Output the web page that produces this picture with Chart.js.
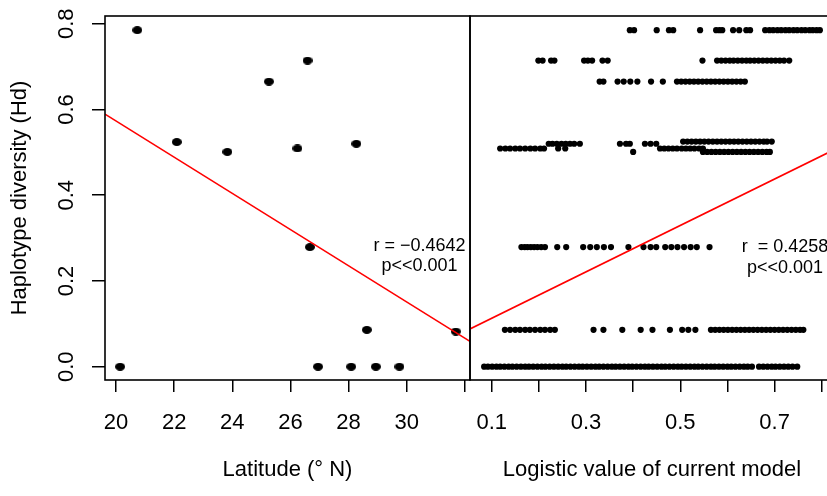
<!DOCTYPE html>
<html>
<head>
<meta charset="utf-8">
<title>Haplotype diversity</title>
<script src="https://cdn.jsdelivr.net/npm/chart.js@4.4.0/dist/chart.umd.min.js"></script>
<style>
    html, body { margin: 0; padding: 0; background: #fff; overflow: hidden; }
    #wrap { position: relative; width: 827px; height: 496px; overflow: hidden; }
    #latChart { position: absolute; left: 0; top: 0; }
    #modelChart { position: absolute; left: 461px; top: 0; }
</style>
</head>
<body>
<div id="wrap">
    <canvas id="latChart" width="471" height="496"></canvas>
    <canvas id="modelChart" width="380" height="496"></canvas>
</div>
<script>
const FONT = '"Liberation Sans", Arial, Helvetica, sans-serif';

// sampling sites: latitude vs Hd
const siteLat = [20.14, 20.73, 22.09, 23.83, 25.26, 26.24, 26.59, 26.67, 26.95, 28.09, 28.27, 28.63, 28.94, 29.75, 31.69];
const siteHd = [0, 0.785, 0.524, 0.501, 0.665, 0.509, 0.714, 0.279, 0, 0, 0.520, 0.086, 0, 0, 0.082];

// regression lines, end points at the axis limits
const latFitX = [19.62, 32.18];
const latFitY = [0.589, 0.059];
const modelFitX = [0.054, 0.826];
const modelFitY = [0.088, 0.506];

// axis limits and ticks
const hdRange = [-0.031, 0.818];
const latRange = [19.62, 32.18];
const modelRange = [0.054, 0.826];
const hdTicks = [0, 0.2, 0.4, 0.6, 0.8];
const latTicks = [20, 22, 24, 26, 28, 30, 32];
const latLabels = ['20', '22', '24', '26', '28', '30'];
const modelTicks = [0.1, 0.2, 0.3, 0.4, 0.5, 0.6, 0.7, 0.8];
const modelLabels = ['0.1', '0.3', '0.5', '0.7'];

// individuals: Hd level of their site and logistic value of the model
const bandHd = [0.785, 0.714, 0.665, 0.525, 0.520, 0.509, 0.501, 0.279, 0.086, 0];
const bandLogit = [
    [0.393, 0.402, 0.450, 0.476, 0.485, 0.542, 0.576, 0.583, 0.589, 0.612, 0.625, 0.640, 0.648,
     0.680, 0.689, 0.697, 0.706, 0.714, 0.723, 0.731, 0.740, 0.748, 0.757, 0.765, 0.774, 0.781, 0.789, 0.796],
    [0.199, 0.208, 0.226, 0.233, 0.296, 0.304, 0.313, 0.335, 0.346, 0.547,
     0.578, 0.587, 0.596, 0.605, 0.613, 0.622, 0.631, 0.640, 0.648, 0.657, 0.666, 0.675, 0.684, 0.693,
     0.702, 0.711, 0.720, 0.731],
    [0.329, 0.337, 0.367, 0.380, 0.394, 0.409, 0.438, 0.463,
     0.493, 0.502, 0.511, 0.520, 0.529, 0.538, 0.547, 0.556, 0.565, 0.574, 0.583, 0.592, 0.601, 0.610,
     0.619, 0.628, 0.637],
    [0.506, 0.515, 0.524, 0.533, 0.542, 0.551, 0.560, 0.569, 0.578, 0.587, 0.596, 0.605, 0.614, 0.623,
     0.632, 0.641, 0.650, 0.659, 0.668, 0.677, 0.684, 0.694],
    [0.221, 0.229, 0.238, 0.248, 0.257, 0.266, 0.275, 0.287, 0.372, 0.385, 0.393, 0.425, 0.437, 0.449],
    [0.118, 0.129, 0.139, 0.150, 0.160, 0.171, 0.182, 0.192, 0.203, 0.211, 0.241, 0.256,
     0.457, 0.466, 0.475, 0.484, 0.493, 0.503, 0.512, 0.521, 0.530, 0.540, 0.548],
    [0.400, 0.548, 0.557, 0.566, 0.575, 0.584, 0.593, 0.602, 0.611, 0.620, 0.629, 0.638, 0.647, 0.656,
     0.665, 0.674, 0.683, 0.690],
    [0.163, 0.170, 0.176, 0.183, 0.190, 0.197, 0.205, 0.213, 0.239, 0.258, 0.294, 0.309, 0.323, 0.338,
     0.353, 0.390, 0.422, 0.437, 0.449, 0.468, 0.481, 0.494, 0.508, 0.522, 0.535, 0.562],
    [0.128, 0.139, 0.150, 0.160, 0.171, 0.181, 0.192, 0.203, 0.213, 0.224, 0.234,
     0.316, 0.337, 0.377, 0.416, 0.441, 0.478, 0.504, 0.517, 0.532,
     0.565, 0.574, 0.583, 0.592, 0.601, 0.610, 0.619, 0.628, 0.637, 0.646, 0.655, 0.664, 0.673, 0.682,
     0.691, 0.700, 0.709, 0.718, 0.727, 0.736, 0.745, 0.754, 0.761],
    [0.084, 0.092, 0.101, 0.110, 0.118, 0.127, 0.136, 0.144, 0.153, 0.162, 0.171, 0.179, 0.188, 0.197,
     0.206, 0.214, 0.223, 0.232, 0.241, 0.250, 0.258, 0.267, 0.276, 0.285, 0.293, 0.302, 0.311, 0.320,
     0.328, 0.337, 0.346, 0.355, 0.363, 0.372, 0.381, 0.390, 0.398, 0.407, 0.416, 0.425, 0.433, 0.442,
     0.451, 0.460, 0.468, 0.477, 0.486, 0.495, 0.503, 0.512, 0.521, 0.530, 0.538, 0.547, 0.556, 0.565,
     0.573, 0.582, 0.591, 0.600, 0.608, 0.617, 0.626, 0.635, 0.643, 0.652, 0.667, 0.676, 0.685, 0.694,
     0.702, 0.711, 0.720, 0.729, 0.738, 0.748]
];

function zip(xs, ys) {
    return xs.map((x, i) => ({ x: x, y: ys[i] }));
}

// site dots are a little wider than tall
function makeDot(w, h) {
    const c = document.createElement('canvas');
    c.width = w;
    c.height = h;
    const g = c.getContext('2d');
    g.fillStyle = '#000';
    g.beginPath();
    g.ellipse(w / 2, h / 2, w / 2, h / 2, 0, 0, Math.PI * 2);
    g.fill();
    return c;
}

// box around the plot area plus the r / p notes
function framePlugin(notes) {
    return {
        id: 'frame',
        afterDatasetsDraw(chart) {
            const { ctx, chartArea: a, scales } = chart;
            ctx.save();
            ctx.strokeStyle = '#000';
            ctx.lineWidth = 1.6;
            ctx.strokeRect(a.left, a.top, a.right - a.left, a.bottom - a.top);
            ctx.font = '18px ' + FONT;
            ctx.fillStyle = '#000';
            ctx.textAlign = 'center';
            ctx.textBaseline = 'middle';
            notes.forEach(n => {
                ctx.fillText(n.text, scales.x.getPixelForValue(n.x), scales.y.getPixelForValue(n.y));
            });
            ctx.restore();
        }
    };
}

// y tick labels are drawn upright along the axis
const hdLabelPlugin = {
    id: 'hdLabels',
    afterDraw(chart) {
        const { ctx } = chart;
        const y = chart.scales.y;
        ctx.save();
        ctx.font = '22px ' + FONT;
        ctx.fillStyle = '#000';
        ctx.textAlign = 'center';
        ctx.textBaseline = 'alphabetic';
        hdTicks.forEach(v => {
            ctx.save();
            ctx.translate(y.right - 31.7, y.getPixelForValue(v));
            ctx.rotate(-Math.PI / 2);
            ctx.fillText(v.toFixed(1), 0, 0);
            ctx.restore();
        });
        ctx.restore();
    }
};

function xAxis(range, ticks, labels, digits, title) {
    return {
        type: 'linear',
        min: range[0],
        max: range[1],
        afterBuildTicks: s => { s.ticks = ticks.map(v => ({ value: v })); },
        afterFit: s => {
            // keep the plot box where it is, labels may hang over the edges
            s.height = 116;
            s.paddingLeft = 0;
            s.paddingRight = 0;
        },
        border: { display: false },
        grid: { drawOnChartArea: false, tickLength: 12, color: '#000', lineWidth: 1.5 },
        ticks: {
            autoSkip: false,
            maxRotation: 0,
            minRotation: 0,
            padding: 18,
            color: '#000',
            font: { family: FONT, size: 22 },
            callback: v => {
                const s = v.toFixed(digits);
                return labels.includes(s) ? s : '';
            }
        },
        title: {
            display: true,
            text: title,
            color: '#000',
            font: { family: FONT, size: 22 },
            padding: { top: 0, bottom: 12.6 }
        }
    };
}

const commonOptions = {
    responsive: false,
    animation: false,
    devicePixelRatio: 1,
    events: [],
    plugins: { legend: { display: false }, tooltip: { enabled: false } }
};

const siteDot = makeDot(10, 8);

new Chart(document.getElementById('latChart'), {
    type: 'scatter',
    data: {
        datasets: [
            { data: zip(latFitX, latFitY), showLine: true, borderColor: '#ff0000', borderWidth: 1.6, pointRadius: 0 },
            { data: zip(siteLat, siteHd), pointStyle: siteDot, pointRadius: 5, backgroundColor: '#000', borderWidth: 0 }
        ]
    },
    options: {
        ...commonOptions,
        layout: { autoPadding: false, padding: { left: 0, top: 16, right: 1, bottom: 0 } },
        scales: {
            x: xAxis(latRange, latTicks, latLabels, 0, 'Latitude (° N)'),
            y: {
                type: 'linear',
                min: hdRange[0],
                max: hdRange[1],
                afterBuildTicks: s => { s.ticks = hdTicks.map(v => ({ value: v })); },
                afterFit: s => {
                    s.width = 105;
                    s.paddingTop = 0;
                    s.paddingBottom = 0;
                },
                border: { display: false },
                grid: { drawOnChartArea: false, tickLength: 13, color: '#000', lineWidth: 1.5 },
                ticks: { display: false },
                title: {
                    display: true,
                    text: 'Haplotype diversity (Hd)',
                    color: '#000',
                    font: { family: FONT, size: 22 },
                    padding: { top: 7, bottom: 0 }
                }
            }
        }
    },
    plugins: [
        framePlugin([
            { text: 'r = \u22120.4642', x: 30.44, y: 0.2815 },
            { text: 'p<<0.001', x: 30.44, y: 0.2347 }
        ]),
        hdLabelPlugin
    ]
});

const modelPoints = [];
bandHd.forEach((hd, i) => {
    bandLogit[i].forEach(v => modelPoints.push({ x: v, y: hd }));
});

new Chart(document.getElementById('modelChart'), {
    type: 'scatter',
    data: {
        datasets: [
            { data: zip(modelFitX, modelFitY), showLine: true, borderColor: '#ff0000', borderWidth: 1.6, pointRadius: 0 },
            { data: modelPoints, pointRadius: 3.1, backgroundColor: '#000', borderWidth: 0 }
        ]
    },
    options: {
        ...commonOptions,
        layout: { autoPadding: false, padding: { left: 9, top: 16, right: 7, bottom: 0 } },
        scales: {
            x: xAxis(modelRange, modelTicks, modelLabels, 1, 'Logistic value of current model'),
            y: { type: 'linear', display: false, min: hdRange[0], max: hdRange[1] }
        }
    },
    plugins: [
        framePlugin([
            { text: 'r  = 0.4258', x: 0.722, y: 0.278 },
            { text: 'p<<0.001', x: 0.722, y: 0.229 }
        ])
    ]
});
</script>
</body>
</html>
